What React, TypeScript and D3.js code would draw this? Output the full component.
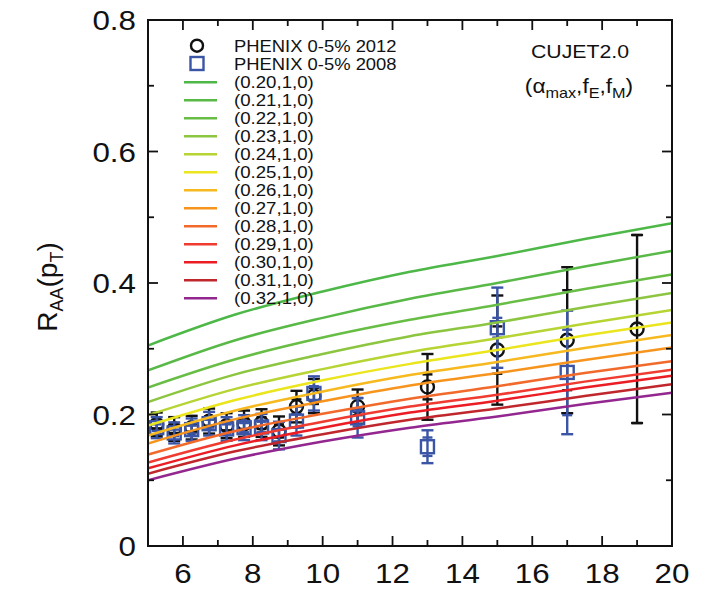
import React from "react";
import * as d3 from "d3";

// ---- axis ticks ----
const xTickLabels = [6, 8, 10, 12, 14, 16, 18, 20];
const yTickLabels = [0, 0.2, 0.4, 0.6, 0.8];

// ---- CUJET2.0 curves: (alpha_max, fE, fM) ----
const curveLabels = [
  "(0.20,1,0)", "(0.21,1,0)", "(0.22,1,0)", "(0.23,1,0)", "(0.24,1,0)",
  "(0.25,1,0)", "(0.26,1,0)", "(0.27,1,0)", "(0.28,1,0)", "(0.29,1,0)",
  "(0.30,1,0)", "(0.31,1,0)", "(0.32,1,0)",
];
const curveColors = [
  "#4db848", "#58b947", "#68bd45", "#8cc540", "#b6d433",
  "#ebe51e", "#f6b91f", "#f7941e", "#f26a2b", "#ef3b30",
  "#ec1c24", "#c0272d", "#93278f",
];
const curvePt = [5, 7.5, 10, 12.5, 15, 17.5, 20];
const curveRaa = [
  [0.305, 0.352, 0.387, 0.417, 0.441, 0.467, 0.491],
  [0.267, 0.313, 0.347, 0.376, 0.400, 0.425, 0.449],
  [0.241, 0.284, 0.317, 0.344, 0.367, 0.391, 0.413],
  [0.219, 0.261, 0.292, 0.319, 0.340, 0.363, 0.385],
  [0.199, 0.239, 0.269, 0.295, 0.316, 0.338, 0.359],
  [0.183, 0.222, 0.252, 0.277, 0.298, 0.320, 0.340],
  [0.168, 0.206, 0.235, 0.260, 0.280, 0.301, 0.321],
  [0.156, 0.193, 0.220, 0.244, 0.263, 0.283, 0.302],
  [0.139, 0.175, 0.201, 0.224, 0.243, 0.263, 0.281],
  [0.127, 0.162, 0.189, 0.212, 0.230, 0.250, 0.268],
  [0.118, 0.153, 0.180, 0.203, 0.221, 0.241, 0.259],
  [0.110, 0.144, 0.170, 0.192, 0.209, 0.228, 0.246],
  [0.100, 0.133, 0.159, 0.180, 0.197, 0.216, 0.233],
];

// ---- PHENIX 0-5% 2012 ----
const pt2012 = [5.25, 5.75, 6.25, 6.75, 7.25, 7.75, 8.25, 8.75, 9.25, 9.75, 11, 13, 15, 17, 19];
const raa2012 = [0.185, 0.178, 0.180, 0.190, 0.183, 0.186, 0.187, 0.175, 0.212, 0.228, 0.212, 0.242, 0.298, 0.313, 0.330];
const stat2012 = [0.006, 0.006, 0.006, 0.007, 0.007, 0.008, 0.009, 0.010, 0.011, 0.012, 0.013, 0.019, 0.036, 0.076, 0.143];
const sys2012 = [0.018, 0.018, 0.018, 0.019, 0.019, 0.020, 0.021, 0.022, 0.024, 0.026, 0.026, 0.050, 0.083, 0.111, 0.143];

// ---- PHENIX 0-5% 2008 ----
const pt2008 = [5.25, 5.75, 6.25, 6.75, 7.25, 7.75, 8.25, 8.75, 9.25, 9.75, 11, 13, 15, 17];
const raa2008 = [0.180, 0.172, 0.177, 0.186, 0.178, 0.180, 0.181, 0.168, 0.190, 0.232, 0.195, 0.151, 0.332, 0.264];
const stat2008 = [0.005, 0.005, 0.006, 0.006, 0.007, 0.007, 0.008, 0.009, 0.010, 0.011, 0.013, 0.014, 0.015, 0.065];
const sys2008 = [0.016, 0.016, 0.017, 0.018, 0.018, 0.019, 0.020, 0.021, 0.022, 0.026, 0.030, 0.025, 0.061, 0.094];

const W = 702;
const H = 591;
const left = 148, right = 672, top = 20, bottom = 546;
const FONT = "'Liberation Sans', Arial, Helvetica, sans-serif";
const BLUE = "#3b55a6";

const x = d3.scaleLinear().domain([5, 20]).range([left, right]);
const y = d3.scaleLinear().domain([0, 0.8]).range([bottom, top]);

function ErrorPoints({ pts, vals, stat, sys, color, marker }: {
  pts: number[]; vals: number[]; stat: number[]; sys: number[]; color: string; marker: "circle" | "square";
}) {
  return (
    <g stroke={color} strokeWidth={2.4} fill="none">
      {pts.map((p, i) => {
        const cx = x(p);
        const v = vals[i];
        const capW = 6;
        const inW = 5;
        return (
          <g key={i}>
            <line x1={cx} x2={cx} y1={y(v - sys[i])} y2={y(v + sys[i])} />
            <line x1={cx - capW} x2={cx + capW} y1={y(v - sys[i])} y2={y(v - sys[i])} />
            <line x1={cx - capW} x2={cx + capW} y1={y(v + sys[i])} y2={y(v + sys[i])} />
            <line x1={cx - inW} x2={cx + inW} y1={y(v - stat[i])} y2={y(v - stat[i])} />
            <line x1={cx - inW} x2={cx + inW} y1={y(v + stat[i])} y2={y(v + stat[i])} />
            {marker === "circle" ? (
              <circle cx={cx} cy={y(v)} r={6.5} />
            ) : (
              <rect x={cx - 6.5} y={y(v) - 6.5} width={13} height={13} />
            )}
          </g>
        );
      })}
    </g>
  );
}

export default function App() {
  const line = d3
    .line<number>()
    .x((_, i) => x(curvePt[i]))
    .y((d) => y(d))
    .curve(d3.curveMonotoneX);

  const xMinor = d3.range(6, 20, 1);
  const yMinor = d3.range(0.1, 0.8, 0.1);
  const stretch = 1.12;

  return (
    <svg
      width={W}
      height={H}
      style={{ position: "absolute", left: 0, top: 0, background: "#fff" }}
      fontFamily={FONT}
    >
      <rect width={W} height={H} fill="#fff" />
      <defs>
        <clipPath id="plotArea">
          <rect x={left} y={top} width={right - left} height={bottom - top} />
        </clipPath>
      </defs>

      {/* data points */}
      <g clipPath="url(#plotArea)">
        <ErrorPoints pts={pt2012} vals={raa2012} stat={stat2012} sys={sys2012} color="#111" marker="circle" />
        <ErrorPoints pts={pt2008} vals={raa2008} stat={stat2008} sys={sys2008} color={BLUE} marker="square" />
      </g>

      {/* model curves */}
      <g clipPath="url(#plotArea)" fill="none" strokeWidth={2.5}>
        {curveRaa.map((vals, i) => (
          <path key={i} d={line(vals) || ""} stroke={curveColors[i]} />
        ))}
      </g>

      {/* frame and ticks */}
      <rect x={left} y={top} width={right - left} height={bottom - top} fill="none" stroke="#111" strokeWidth={2} />
      <g stroke="#111" strokeWidth={1.8}>
        {xMinor.map((v) => {
          const len = v % 2 === 0 ? 10 : 6;
          return (
            <g key={"x" + v}>
              <line x1={x(v)} x2={x(v)} y1={bottom} y2={bottom - len} />
              <line x1={x(v)} x2={x(v)} y1={top} y2={top + len} />
            </g>
          );
        })}
        {yMinor.map((v, i) => {
          const len = (i + 1) % 2 === 0 ? 10 : 6;
          return (
            <g key={"y" + i}>
              <line x1={left} x2={left + len} y1={y(v)} y2={y(v)} />
              <line x1={right} x2={right - len} y1={y(v)} y2={y(v)} />
            </g>
          );
        })}
      </g>

      {/* tick labels */}
      <g fontSize={28} fill="#111">
        {xTickLabels.map((v) => (
          <text key={v} transform={`translate(${x(v)},${583}) scale(${stretch},1)`} textAnchor="middle">
            {v}
          </text>
        ))}
        {yTickLabels.map((v) => (
          <text key={v} transform={`translate(${136},${y(v) + 10}) scale(${stretch},1)`} textAnchor="end">
            {v === 0 ? "0" : v.toFixed(1)}
          </text>
        ))}
      </g>

      {/* y-axis title */}
      <text transform="translate(57,287) rotate(-90)" textAnchor="middle" fontSize={28} fill="#111">
        <tspan>R</tspan>
        <tspan fontSize={18} dy={6}>AA</tspan>
        <tspan dy={-6}>(p</tspan>
        <tspan fontSize={18} dy={6}>T</tspan>
        <tspan dy={-6}>)</tspan>
      </text>

      {/* model tag */}
      <g fill="#111">
        <text transform={`translate(580,58) scale(${stretch},1)`} textAnchor="middle" fontSize={19}>CUJET2.0</text>
        <text transform={`translate(579,93) scale(1.08,1)`} textAnchor="middle" fontSize={21}>
          <tspan>(α</tspan>
          <tspan fontSize={15} dy={5}>max</tspan>
          <tspan dy={-5}>,f</tspan>
          <tspan fontSize={15} dy={5}>E</tspan>
          <tspan dy={-5}>,f</tspan>
          <tspan fontSize={15} dy={5}>M</tspan>
          <tspan dy={-5}>)</tspan>
        </text>
      </g>

      {/* legend */}
      <g>
        <circle cx={197} cy={45.7} r={6} fill="none" stroke="#111" strokeWidth={2.4} />
        <rect x={190.5} y={57} width={13} height={13} fill="none" stroke={BLUE} strokeWidth={2.4} />
        <g fontSize={16} fill="#111">
          <text transform={`translate(234,${45.7 + 5.8}) scale(1.15,1)`}>PHENIX 0-5% 2012</text>
          <text transform={`translate(234,${63.7 + 5.8}) scale(1.15,1)`}>PHENIX 0-5% 2008</text>
        </g>
        {curveLabels.map((lab, i) => {
          const ly = 82.3 + i * 18;
          return (
            <g key={lab}>
              <line x1={184} x2={217} y1={ly} y2={ly} stroke={curveColors[i]} strokeWidth={2.5} />
              <text transform={`translate(234,${ly + 6}) scale(1.13,1)`} fontSize={16.5} fill="#111">
                {lab}
              </text>
            </g>
          );
        })}
      </g>
    </svg>
  );
}
